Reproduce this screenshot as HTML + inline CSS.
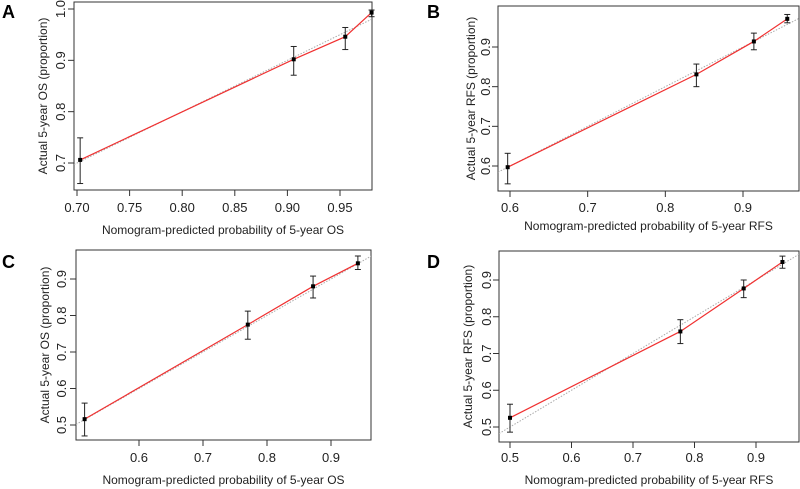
<!DOCTYPE html>
<html><head><meta charset="utf-8"><style>
html,body{margin:0;padding:0;background:#fff}
svg{display:block;font-family:"Liberation Sans",sans-serif}
</style></head><body>
<svg id="chart" width="800" height="489" viewBox="0 0 800 489"></svg>
<script>
const panelLabels = ["A","B","C","D"];
const xTitles = ["Nomogram-predicted probability of 5-year OS","Nomogram-predicted probability of 5-year RFS","Nomogram-predicted probability of 5-year OS","Nomogram-predicted probability of 5-year RFS"];
const yTitles = ["Actual 5-year OS (proportion)","Actual 5-year RFS (proportion)","Actual 5-year OS (proportion)","Actual 5-year RFS (proportion)"];
const xTicksA = [0.70,0.75,0.80,0.85,0.90,0.95];
const yTicksA = [0.7,0.8,0.9,1.0];
const predA = [0.703,0.906,0.955,0.980];
const obsA = [0.706,0.902,0.946,0.993];
const loA = [0.660,0.871,0.921,0.985];
const hiA = [0.749,0.927,0.964,0.998];
const xTicksB = [0.6,0.7,0.8,0.9];
const yTicksB = [0.6,0.7,0.8,0.9];
const predB = [0.597,0.840,0.914,0.957];
const obsB = [0.597,0.831,0.914,0.971];
const loB = [0.555,0.800,0.893,0.961];
const hiB = [0.632,0.857,0.935,0.982];
const xTicksC = [0.6,0.7,0.8,0.9];
const yTicksC = [0.5,0.6,0.7,0.8,0.9];
const predC = [0.515,0.770,0.872,0.942];
const obsC = [0.516,0.775,0.880,0.943];
const loC = [0.470,0.735,0.848,0.926];
const hiC = [0.560,0.812,0.908,0.963];
const xTicksD = [0.5,0.6,0.7,0.8,0.9];
const yTicksD = [0.5,0.6,0.7,0.8,0.9];
const predD = [0.500,0.777,0.880,0.943];
const obsD = [0.525,0.760,0.877,0.949];
const loD = [0.486,0.727,0.852,0.932];
const hiD = [0.562,0.792,0.900,0.965];

const NS="http://www.w3.org/2000/svg";
const svg=document.getElementById('chart');
function mk(tag,attrs,parent){const e=document.createElementNS(NS,tag);for(const k in attrs)e.setAttribute(k,attrs[k]);(parent||svg).appendChild(e);return e;}

const layouts=[
 {box:[74,2,372,190], xr:[0.70,77,0.95,340], yr:[1.0,9,0.7,163], lab:[2,18], xtY:212, xtitY:234, ytX:47, ylOff:9},
 {box:[498,6,799,191], xr:[0.6,510,0.9,743], yr:[0.9,47,0.6,166], lab:[427,18], xtY:212, xtitY:230, ytX:475, ylOff:8},
 {box:[76,250,371,440], xr:[0.6,139,0.9,331], yr:[0.9,279,0.5,425], lab:[2,268], xtY:462, xtitY:484, ytX:49, ylOff:10},
 {box:[499,251,799,442], xr:[0.5,510,0.9,756], yr:[0.9,280,0.5,427], lab:[427,268], xtY:462, xtitY:484, ytX:472, ylOff:8}
];
const data=[[xTicksA,yTicksA,predA,obsA,loA,hiA],[xTicksB,yTicksB,predB,obsB,loB,hiB],[xTicksC,yTicksC,predC,obsC,loC,hiC],[xTicksD,yTicksD,predD,obsD,loD,hiD]];

layouts.forEach((L,i)=>{
 const [xt,yt,pred,obs,lo,hi]=data[i];
 const g=mk('g',{});
 
 
 const sx=v=>L.xr[1]+(v-L.xr[0])*(L.xr[3]-L.xr[1])/(L.xr[2]-L.xr[0]);
 const sy=v=>L.yr[1]+(v-L.yr[0])*(L.yr[3]-L.yr[1])/(L.yr[2]-L.yr[0]);
 const inv=p=>L.xr[0]+(p-L.xr[1])*(L.xr[2]-L.xr[0])/(L.xr[3]-L.xr[1]);
 const [x0,y0,x1,y1]=L.box;
 const cp=mk('clipPath',{id:'cp'+i},g);mk('rect',{x:x0,y:y0,width:x1-x0,height:y1-y0},cp);
 const box=mk('rect',{x:x0,y:y0,width:x1-x0,height:y1-y0,fill:'none',stroke:'#333','stroke-width':1},g);
 
 const lab=mk('text',{x:L.lab[0],y:L.lab[1],'font-size':18,'font-weight':'bold',fill:'#000'},g);lab.textContent=panelLabels[i];
 
 const a=inv(x0),b=inv(x1);
 const diag=mk('line',{x1:sx(a),y1:sy(a),x2:sx(b),y2:sy(b),stroke:'#aaa','stroke-width':1,'stroke-dasharray':'1.5,1.5','clip-path':'url(#cp'+i+')'},g);
 
 xt.forEach(v=>{
  mk('line',{x1:sx(v),y1:y1,x2:sx(v),y2:y1+6,stroke:'#333'},g);
  const t=mk('text',{x:sx(v),y:L.xtY,'font-size':13,'text-anchor':'middle',fill:'#222'},g);
  t.textContent=(i===0?v.toFixed(2):v.toFixed(1));
  
 });
 yt.forEach(v=>{
  mk('line',{x1:x0,y1:sy(v),x2:x0-6,y2:sy(v),stroke:'#333'},g);
  const tx=x0-L.ylOff;
  const t=mk('text',{x:tx,y:sy(v),'font-size':13,'text-anchor':'middle',fill:'#222',transform:'rotate(-90 '+tx+' '+sy(v)+')'},g);
  t.textContent=v.toFixed(1);
  
 });
 const xtit=mk('text',{x:(x0+x1)/2,y:L.xtitY,'font-size':12,'text-anchor':'middle',fill:'#222'},g);xtit.textContent=xTitles[i];
 
 const cy=(y0+y1)/2;
 const ytit=mk('text',{x:L.ytX,y:cy,'font-size':12,'text-anchor':'middle',fill:'#222',transform:'rotate(-90 '+L.ytX+' '+cy+')'},g);ytit.textContent=yTitles[i];
 
 const line=mk('polyline',{points:pred.map((p,k)=>sx(p)+','+sy(obs[k])).join(' '),fill:'none',stroke:'#f03030','stroke-width':1.2},g);
 
 pred.forEach((p,k)=>{
  const X=sx(p);
  const eb=mk('g',{stroke:'#222','stroke-width':1},g);
  
  mk('line',{x1:X,y1:sy(lo[k]),x2:X,y2:sy(hi[k])},eb);
  mk('line',{x1:X-3,y1:sy(lo[k]),x2:X+3,y2:sy(lo[k])},eb);
  mk('line',{x1:X-3,y1:sy(hi[k]),x2:X+3,y2:sy(hi[k])},eb);
  const pt=mk('rect',{x:X-2,y:sy(obs[k])-2,width:4,height:4,fill:'#000'},g);
  
 });
});
</script>
</body></html>
